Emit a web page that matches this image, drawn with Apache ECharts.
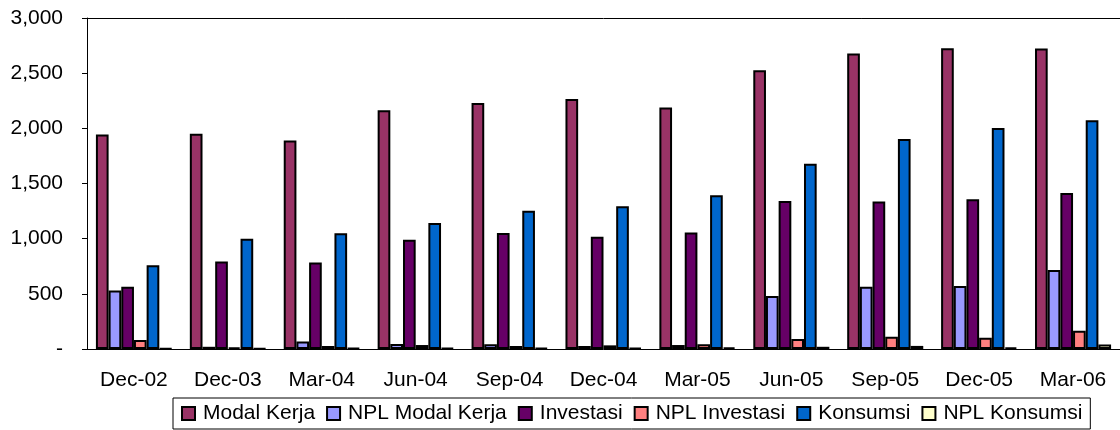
<!DOCTYPE html>
<html>
<head>
<meta charset="utf-8">
<script src="https://cdn.jsdelivr.net/npm/echarts@6/dist/echarts.min.js"></script>
<style>
  html, body { margin: 0; padding: 0; background: #fff; }
  #chart { width: 1120px; height: 430px; }
</style>
</head>
<body>
<div id="chart"></div>
<script>
// Quarterly credit by purpose (billions) with non-performing loans
const categories = ['Dec-02', 'Dec-03', 'Mar-04', 'Jun-04', 'Sep-04', 'Dec-04', 'Mar-05', 'Jun-05', 'Sep-05', 'Dec-05', 'Mar-06'];
const modalKerja    = [1945, 1950, 1890, 2165, 2230, 2265, 2188, 2526, 2678, 2726, 2723];
const nplModalKerja = [530, 20, 67, 45, 42, 27, 36, 480, 565, 571, 716];
const investasi     = [564, 794, 785, 991, 1052, 1018, 1055, 1342, 1337, 1357, 1414];
const nplInvestasi  = [82, 15, 27, 36, 27, 33, 42, 91, 110, 103, 166];
const konsumsi      = [758, 1000, 1048, 1142, 1252, 1294, 1393, 1680, 1904, 2004, 2073];
const nplKonsumsi   = [5, 5, 8, 8, 8, 10, 15, 20, 28, 14, 40];
const yTicks = [0, 500, 1000, 1500, 2000, 2500, 3000];

const seriesDefs = [
  { name: 'Modal Kerja', data: modalKerja, color: '#993366' },
  { name: 'NPL Modal Kerja', data: nplModalKerja, color: '#9999FF' },
  { name: 'Investasi', data: investasi, color: '#660066' },
  { name: 'NPL Investasi', data: nplInvestasi, color: '#FF8080' },
  { name: 'Konsumsi', data: konsumsi, color: '#0066CC' },
  { name: 'NPL Konsumsi', data: nplKonsumsi, color: '#FFFFCC' }
];

const font = '"Liberation Sans", Arial, sans-serif';
const chart = echarts.init(document.getElementById('chart'), null, { renderer: 'canvas' });

chart.setOption({
  animation: false,
  backgroundColor: '#fff',
  grid: { left: 87, right: -4, top: 18, bottom: 81, containLabel: false },
  legend: {
    left: 173,
    top: 398,
    orient: 'horizontal',
    padding: [5, 8, 5, 8],
    borderColor: '#000',
    borderWidth: 1,
    itemWidth: 13,
    itemHeight: 13,
    itemGap: 11,
    icon: 'rect',
    textStyle: { fontFamily: font, fontSize: 21, color: '#000', padding: [0, 0, 0, 3] },
    itemStyle: { borderColor: '#000', borderWidth: 2 },
    data: seriesDefs.map(s => s.name)
  },
  xAxis: [
    {
      type: 'category',
      data: categories,
      axisLine: { show: true, lineStyle: { color: '#000', width: 1 } },
      axisTick: { show: false },
      axisLabel: { fontFamily: font, fontSize: 21, color: '#000', margin: 21, interval: 0 },
      splitLine: { show: false }
    },
    {
      type: 'category',
      position: 'top',
      data: categories,
      axisLine: { show: true, lineStyle: { color: '#000', width: 1 } },
      axisTick: { show: false },
      axisLabel: { show: false },
      splitLine: { show: false }
    }
  ],
  yAxis: {
    type: 'value',
    min: yTicks[0],
    max: yTicks[yTicks.length - 1],
    interval: 500,
    axisLine: { show: true, lineStyle: { color: '#000', width: 1 } },
    axisTick: { show: true, length: 5, lineStyle: { color: '#000' } },
    axisLabel: {
      fontFamily: font, fontSize: 21, color: '#000', margin: 24,
      formatter: v => v === 0 ? '-' : v.toLocaleString('en-US')
    },
    splitLine: { show: false }
  },
  series: seriesDefs.map(s => ({
    name: s.name,
    type: 'bar',
    xAxisIndex: 0,
    data: s.data,
    barGap: '0%',
    barCategoryGap: '19%',
    itemStyle: { color: s.color, borderColor: '#000', borderWidth: 2 }
  }))
});
</script>
</body>
</html>
